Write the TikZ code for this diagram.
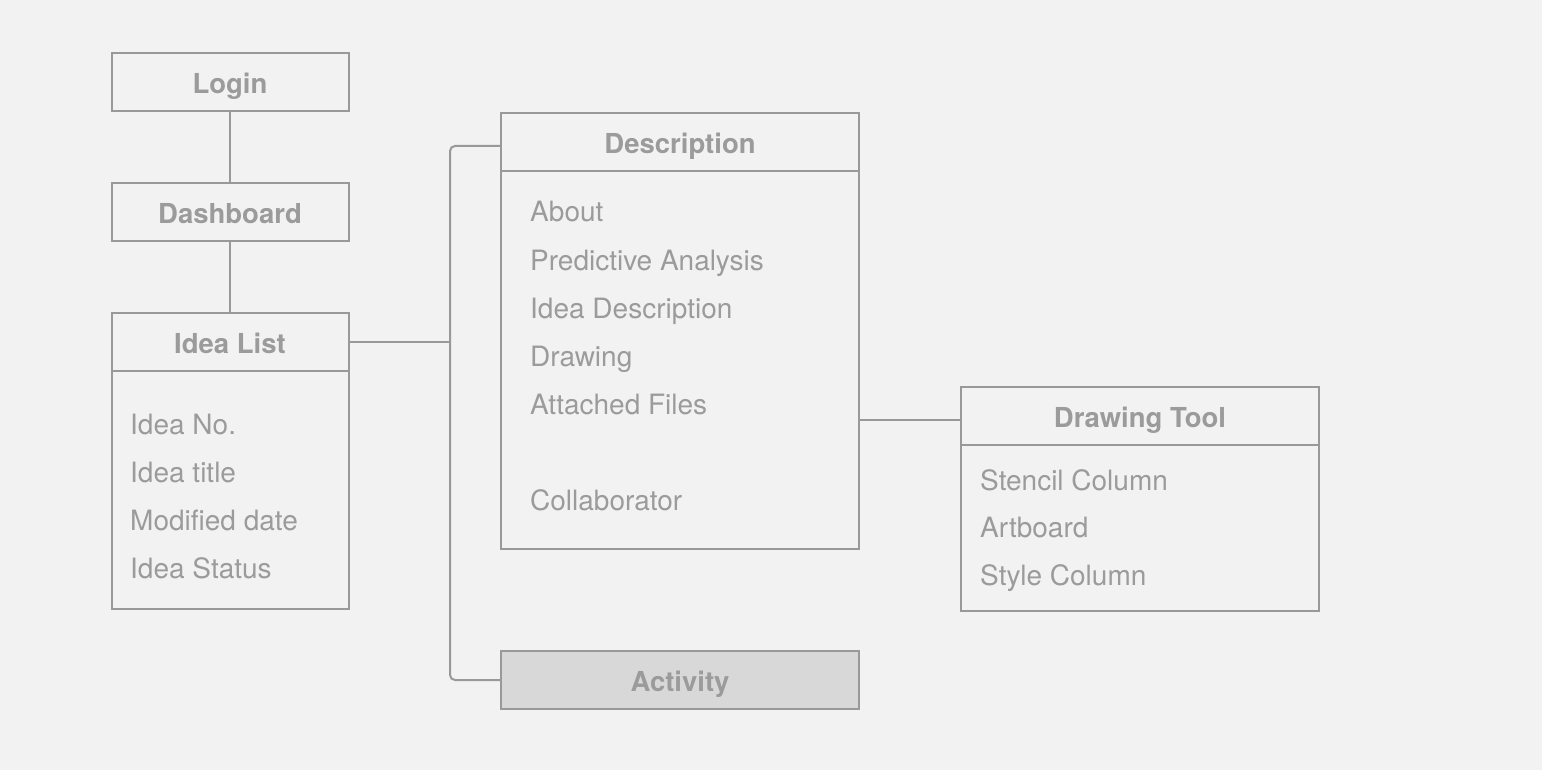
\documentclass[tikz,border=0pt]{standalone}
\usepackage{fontspec}
\setmainfont{TeX Gyre Heros}
\definecolor{bg}{HTML}{F2F2F2}
\definecolor{ln}{HTML}{999999}
\definecolor{tx}{HTML}{9B9B9B}
\definecolor{actfill}{HTML}{D8D8D8}
\tikzset{
  box/.style={draw=ln, line width=2pt, minimum width=237pt, inner sep=0pt, outer sep=0pt},
  hdr/.style={box, minimum height=58pt, text=tx, text height=23pt, text depth=0pt,
    font=\fontsize{27.5}{30}\selectfont\bfseries},
  body/.style={box},
  item/.style={anchor=base west, inner sep=0pt, text=tx, font=\fontsize{28}{30}\selectfont},
  conn/.style={draw=ln, line width=2pt}
}
\begin{document}
\begin{tikzpicture}[x=1pt,y=-1pt]
\useasboundingbox (0,0) rectangle (1542,770);
\fill[bg] (0,0) rectangle (1542,770);

% left column
\node[hdr] (login) at (230,82) {Login};
\node[hdr] (dash) at (230,212) {Dashboard};
\node[hdr] (ilh) at (230,342) {Idea List};
\node[body, minimum height=238pt, anchor=north] (ilb) at (ilh.south) {};
\node[item] (il1) at (130,434) {Idea No.};
\node[item] (il2) at (130,482) {Idea title};
\node[item] (il3) at (130,530) {Modified date};
\node[item] (il4) at (130,578) {Idea Status};

% description
\node[hdr, minimum width=358pt] (desc) at (680,142) {Description};
\node[body, minimum width=358pt, minimum height=378pt, anchor=north] (descb) at (desc.south) {};
\node[item] (d1) at (530,222) {About};
\node[item] (d2) at (530,270) {Predictive Analysis};
\node[item] (d3) at (530,318) {Idea Description};
\node[item] (d4) at (530,366) {Drawing};
\node[item] (d5) at (530,414) {Attached Files};
\node[item] (d6) at (530,510) {Collaborator};

% activity
\node[hdr, minimum width=358pt, fill=actfill] (act) at (680,680) {Activity};

% drawing tool
\node[hdr, minimum width=358pt] (dt) at (1140,416) {Drawing Tool};
\node[body, minimum width=358pt, minimum height=166pt, anchor=north] (dtb) at (dt.south) {};
\node[item] (t1) at (980,490) {Stencil Column};
\node[item] (t2) at (980,537) {Artboard};
\node[item] (t3) at (980,585) {Style Column};

% connectors
\coordinate (bx) at (450,0);
\draw[conn] (login.south) -- (dash.north);
\draw[conn] (dash.south) -- (ilh.north);
\draw[conn] (ilh.east) -- (ilh.east -| bx);
\draw[conn, rounded corners=5pt] ([yshift=-4pt]desc.west) -| (bx |- act.west) -- (act.west);
\draw[conn] ([yshift=-4pt]dt.west) -- ([yshift=-4pt]dt.west -| descb.east);
\end{tikzpicture}
\end{document}
